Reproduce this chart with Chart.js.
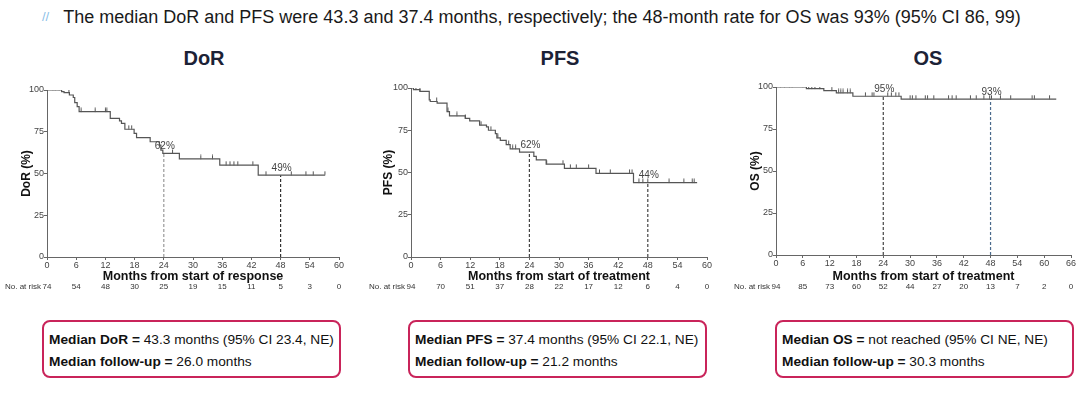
<!DOCTYPE html>
<html lang="en">
<head>
<meta charset="UTF-8">
<title>DoR, PFS and OS</title>
<script src="https://cdn.jsdelivr.net/npm/chart.js"></script>
<style>
    body {
        margin: 0;
        width: 1080px;
        height: 402px;
        background: #fff;
        font-family: Arial, 'Liberation Sans', sans-serif;
        position: relative;
        overflow: hidden;
    }
    .header {
        position: absolute;
        left: 42px;
        top: 7px;
        font-size: 18px;
        color: #1a1a1a;
        white-space: nowrap;
    }
    .header span {
        color: #8cc0e8;
        font-size: 13px;
        margin-right: 14px;
        vertical-align: 2px;
    }
    .ttl {
        position: absolute;
        top: 47px;
        width: 120px;
        text-align: center;
        font-size: 20px;
        font-weight: bold;
        color: #1c2236;
    }
    .plot {
        position: absolute;
        top: 40px;
        width: 360px;
        height: 262px;
    }
    .box {
        position: absolute;
        top: 320px;
        width: 299px;
        height: 58px;
        border: 2px solid #c9245a;
        border-radius: 8px;
        box-sizing: border-box;
        padding: 0 5px;
        font-size: 13.7px;
        color: #111;
        white-space: nowrap;
    }
    .box p {
        margin: 10px 0 0 0;
    }
    .box p + p {
        margin-top: 7px;
    }
</style>
</head>
<body>
<div class="header"><span>//</span>The median DoR and PFS were 43.3 and 37.4 months, respectively; the 48-month rate for OS was 93% (95% CI 86, 99)</div>

<div class="ttl" style="left:144px">DoR</div>
<div class="ttl" style="left:500px">PFS</div>
<div class="ttl" style="left:868px">OS</div>

<div class="plot" style="left:0px"><canvas id="dorChart" width="360" height="262"></canvas></div>
<div class="plot" style="left:355px"><canvas id="pfsChart" width="360" height="262"></canvas></div>
<div class="plot" style="left:720px"><canvas id="osChart" width="360" height="262"></canvas></div>

<div class="box" style="left:42px"><p><b>Median DoR =</b> 43.3 months (95% CI 23.4, NE)</p><p><b>Median follow-up =</b> 26.0 months</p></div>
<div class="box" style="left:408px"><p><b>Median PFS =</b> 37.4 months (95% CI 22.1, NE)</p><p><b>Median follow-up =</b> 21.2 months</p></div>
<div class="box" style="left:775px"><p><b>Median OS =</b> not reached (95% CI NE, NE)</p><p><b>Median follow-up =</b> 30.3 months</p></div>

<script>
    // DoR curve (month where each step starts, % at that step)
    const dorTimes = [0, 3.0, 3.5, 4.6, 5.4, 5.7, 6.2, 6.6, 13.0, 14.9, 15.3, 16.0, 17.9, 18.4, 21.2, 23.1, 23.4, 23.8, 27.2, 35.5, 43.4, 57.1];
    const dorSurv  = [100, 99, 98.4, 97, 95.5, 92.5, 90, 87, 83, 81.5, 80, 76.5, 74, 71.5, 69, 67, 64, 62, 58.7, 55, 49, 49];
    const dorCensor = [1.2, 1.7, 2.5, 4.5, 7.0, 9.9, 12.0, 12.3, 16.8, 17.4, 25.8, 31.6, 34.0, 36.8, 37.6, 38.4, 39.2, 42.3, 45.0, 50.2, 53.2, 54.7, 57.1];
    const dorRisk = [74, 54, 48, 30, 25, 19, 15, 11, 5, 3, 0];

    // PFS curve
    const pfsTimes = [0, 0.5, 1.8, 3.7, 3.9, 5.3, 7.3, 7.8, 11.0, 11.9, 13.9, 15.3, 15.7, 17.1, 17.4, 18.1, 19.3, 20.1, 22.0, 24.9, 25.4, 27.4, 31.1, 37.5, 45.1, 58.0];
    const pfsSurv  = [100, 99, 98, 93, 92, 91, 86, 83.5, 82, 80.5, 78, 77, 75, 73, 70.5, 69, 66.5, 64, 62, 59.5, 57.5, 55, 52.5, 49.5, 44, 44];
    const pfsCensor = [1.0, 1.8, 5.2, 7.5, 9.3, 11.0, 14.2, 16.2, 17.6, 19.8, 20.6, 21.2, 27.5, 30.8, 32.3, 33.5, 36.0, 38.2, 40.4, 44.3, 44.8, 46.2, 47.0, 48.0, 52.3, 55.3, 57.0, 57.4];
    const pfsRisk = [94, 70, 51, 37, 28, 22, 17, 12, 6, 4, 0];

    // OS curve
    const osTimes = [0, 6.8, 10.7, 13.5, 17.2, 28.0, 62.7];
    const osSurv  = [100, 99, 97.8, 96.5, 94.5, 92.8, 92.8];
    const osCensor = [1.0, 1.9, 3.0, 3.6, 6.0, 7.3, 8.0, 8.7, 9.8, 12.5, 14.0, 14.5, 15.0, 16.0, 16.6, 20.0, 21.5, 21.9, 25.0, 25.8, 26.8, 27.5, 30.0, 30.5, 31.3, 33.4, 33.9, 35.3, 38.6, 39.4, 40.3, 43.5, 44.8, 46.5, 47.8, 48.2, 50.2, 52.5, 57.3, 57.8, 61.2];
    const osRisk = [94, 85, 73, 60, 52, 44, 27, 20, 13, 7, 2, 0];

    const landmarkMonths = [24, 48];
    const dorLabels = ['62%', '49%'];
    const pfsLabels = ['62%', '44%'];
    const osLabels = ['95%', '93%'];

    const narrow = "'Liberation Sans Narrow', 'Arial Narrow', Arial, sans-serif";
    const lineColor = '#555';

    // censor mark: short upward tick sitting on the curve
    const tick = document.createElement('canvas');
    tick.width = 3;
    tick.height = 9;
    const tctx = tick.getContext('2d');
    tctx.strokeStyle = lineColor;
    tctx.lineWidth = 1;
    tctx.beginPath();
    tctx.moveTo(1.5, 0.5);
    tctx.lineTo(1.5, 4.5);
    tctx.stroke();

    function kmChart(id, c) {
        const survAt = t => {
            let s = c.surv[0];
            c.times.forEach((tt, i) => { if (tt <= t) s = c.surv[i]; });
            return s;
        };

        const datasets = [{
            data: c.times.map((t, i) => ({ x: t, y: c.surv[i] })),
            stepped: 'before',
            borderColor: lineColor,
            borderWidth: 1.2,
            pointRadius: 0
        }, {
            data: c.censor.map(t => ({ x: t, y: survAt(t) })),
            showLine: false,
            pointStyle: tick,
            pointRadius: 3
        }];
        landmarkMonths.forEach((m, i) => {
            datasets.push({
                data: [{ x: m, y: 0 }, { x: m, y: survAt(m) }],
                borderColor: c.dashColors[i],
                borderDash: [3, 2],
                borderWidth: 1.2,
                pointRadius: 0
            });
        });

        // at-risk row and landmark % labels
        const extras = {
            id: 'extras',
            afterDraw(chart) {
                const ctx = chart.ctx;
                const xs = chart.scales.x, ys = chart.scales.y;
                ctx.save();
                ctx.fillStyle = '#444';
                ctx.font = '10px ' + narrow;
                ctx.textAlign = 'center';
                ctx.textBaseline = 'bottom';
                landmarkMonths.forEach((m, i) => {
                    ctx.fillText(c.labels[i], xs.getPixelForValue(m) + 1, ys.getPixelForValue(survAt(m)) - 2);
                });
                ctx.font = '8px ' + narrow;
                ctx.fillStyle = '#333';
                ctx.textBaseline = 'middle';
                c.risk.forEach((n, i) => {
                    ctx.fillText(String(n), xs.getPixelForValue(i * 6), 247);
                });
                ctx.textAlign = 'right';
                ctx.fillText('No. at risk', xs.getPixelForValue(0) - 6, 247);
                ctx.restore();
            }
        };

        const axisGrid = { display: true, drawOnChartArea: false, drawTicks: true, tickLength: 3, color: '#666' };

        return new Chart(document.getElementById(id), {
            type: 'line',
            data: { datasets },
            plugins: [extras],
            options: {
                responsive: false,
                animation: false,
                layout: { padding: { left: c.padL, right: c.padR, top: c.padT, bottom: 0 } },
                plugins: { legend: { display: false }, tooltip: { enabled: false } },
                scales: {
                    x: {
                        type: 'linear',
                        min: 0,
                        max: c.xMax,
                        ticks: { stepSize: 6, color: '#444', padding: 0, font: { family: narrow, size: 9 } },
                        grid: axisGrid,
                        border: { color: '#666', width: 1 },
                        title: {
                            display: true,
                            text: c.xTitle,
                            color: '#111',
                            font: { family: 'Arial', size: 12.5, weight: 'bold' },
                            padding: { top: 0, bottom: 18 }
                        },
                        afterFit: s => { s.height = 262 - c.bottom; }
                    },
                    y: {
                        min: 0,
                        max: 100,
                        ticks: { stepSize: 25, color: '#444', padding: 0, font: { family: narrow, size: 9 } },
                        grid: axisGrid,
                        border: { color: '#666', width: 1 },
                        title: {
                            display: true,
                            text: c.yTitle,
                            color: '#111',
                            font: { family: 'Arial', size: 12, weight: 'bold' },
                            padding: { top: 0, bottom: 0 }
                        },
                        afterFit: s => { s.width = c.yW; }
                    }
                }
            }
        });
    }

    kmChart('dorChart', {
        times: dorTimes, surv: dorSurv, censor: dorCensor, risk: dorRisk, labels: dorLabels,
        xMax: 60, xTitle: 'Months from start of response', yTitle: 'DoR (%)',
        dashColors: ['#999', '#333'],
        padL: 19, yW: 28, padR: 21, padT: 50, bottom: 217
    });
    kmChart('pfsChart', {
        times: pfsTimes, surv: pfsSurv, censor: pfsCensor, risk: pfsRisk, labels: pfsLabels,
        xMax: 60, xTitle: 'Months from start of treatment', yTitle: 'PFS (%)',
        dashColors: ['#444', '#444'],
        padL: 26, yW: 30, padR: 8, padT: 48, bottom: 217
    });
    kmChart('osChart', {
        times: osTimes, surv: osSurv, censor: osCensor, risk: osRisk, labels: osLabels,
        xMax: 66, xTitle: 'Months from start of treatment', yTitle: 'OS (%)',
        dashColors: ['#444', '#4a6a8c'],
        padL: 28, yW: 28, padR: 9, padT: 47, bottom: 215
    });
</script>
</body>
</html>
